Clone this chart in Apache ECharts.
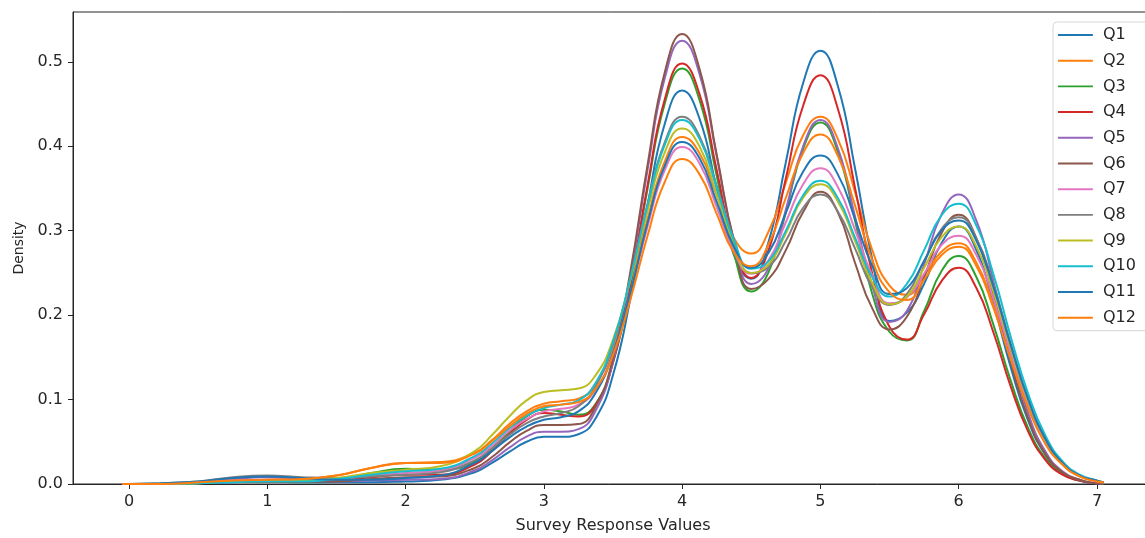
<!DOCTYPE html>
<html lang="en">
<head>
    <meta charset="utf-8">
    <title>Survey KDE</title>
    <script src="https://cdn.jsdelivr.net/npm/echarts@6/dist/echarts.min.js"></script>
    <style>
        body { margin: 0; background: #fff; }
        #main { width: 1145px; height: 538px; }
    </style>
</head>
<body>
<div id="main"></div>
<script>
    // x positions of the density samples (denser where the curves bend)
    var xs = [-0.05, 0, 0.25, 0.5, 0.75, 1, 1.25, 1.5, 1.75, 2, 2.25, 2.5,
              2.625, 2.75, 2.875, 3, 3.125, 3.25, 3.375, 3.5, 3.625, 3.75, 3.875,
              4, 4.125, 4.25, 4.375, 4.5, 4.625, 4.75, 4.875,
              5, 5.125, 5.25, 5.375, 5.5, 5.625, 5.75, 5.875,
              6, 6.125, 6.25, 6.375, 6.5, 6.625, 6.75, 6.875, 7, 7.05];

    var q1  = [0, 0, 0, 0.001, 0.002, 0.003, 0.002, 0.002, 0.002, 0.003, 0.005, 0.014, 0.025, 0.038, 0.050, 0.056, 0.056, 0.059, 0.078, 0.129, 0.219, 0.330, 0.427, 0.466, 0.433, 0.350, 0.271, 0.243, 0.287, 0.381, 0.475, 0.513, 0.472, 0.374, 0.266, 0.193, 0.203, 0.237, 0.285, 0.305, 0.278, 0.214, 0.139, 0.076, 0.035, 0.013, 0.004, 0.001, 0.001];
    var q2  = [0, 0, 0, 0.002, 0.004, 0.005, 0.006, 0.010, 0.019, 0.025, 0.026, 0.037, 0.052, 0.071, 0.086, 0.095, 0.098, 0.101, 0.119, 0.162, 0.232, 0.314, 0.382, 0.411, 0.392, 0.342, 0.291, 0.273, 0.299, 0.357, 0.413, 0.435, 0.409, 0.346, 0.277, 0.235, 0.224, 0.247, 0.275, 0.285, 0.263, 0.212, 0.150, 0.092, 0.049, 0.023, 0.009, 0.003, 0.002];
    var q3  = [0, 0, 0, 0.001, 0.003, 0.003, 0.003, 0.005, 0.013, 0.018, 0.017, 0.026, 0.042, 0.062, 0.080, 0.088, 0.086, 0.082, 0.095, 0.144, 0.234, 0.350, 0.451, 0.492, 0.455, 0.365, 0.273, 0.228, 0.251, 0.322, 0.397, 0.428, 0.394, 0.312, 0.225, 0.180, 0.170, 0.205, 0.252, 0.270, 0.246, 0.189, 0.123, 0.067, 0.031, 0.012, 0.004, 0.001, 0.001];
    var q4  = [0, 0, 0, 0.001, 0.003, 0.003, 0.003, 0.004, 0.008, 0.011, 0.011, 0.023, 0.039, 0.059, 0.076, 0.084, 0.082, 0.080, 0.094, 0.144, 0.237, 0.354, 0.456, 0.498, 0.462, 0.372, 0.282, 0.244, 0.277, 0.362, 0.448, 0.484, 0.445, 0.351, 0.249, 0.186, 0.171, 0.201, 0.240, 0.256, 0.233, 0.180, 0.116, 0.063, 0.029, 0.011, 0.004, 0.001, 0.001];
    var q5  = [0, 0, 0, 0.002, 0.006, 0.008, 0.006, 0.003, 0.004, 0.005, 0.006, 0.016, 0.028, 0.043, 0.056, 0.062, 0.062, 0.065, 0.087, 0.145, 0.246, 0.372, 0.481, 0.525, 0.486, 0.388, 0.288, 0.237, 0.256, 0.325, 0.400, 0.431, 0.398, 0.317, 0.235, 0.192, 0.205, 0.260, 0.319, 0.343, 0.313, 0.241, 0.156, 0.085, 0.039, 0.015, 0.005, 0.001, 0.001];
    var q6  = [0, 0, 0, 0.001, 0.003, 0.004, 0.003, 0.003, 0.006, 0.008, 0.009, 0.019, 0.032, 0.049, 0.063, 0.070, 0.070, 0.071, 0.092, 0.149, 0.251, 0.378, 0.488, 0.533, 0.492, 0.390, 0.288, 0.231, 0.243, 0.277, 0.322, 0.346, 0.322, 0.262, 0.208, 0.183, 0.198, 0.245, 0.297, 0.319, 0.292, 0.225, 0.146, 0.079, 0.036, 0.014, 0.005, 0.001, 0.001];
    var q7  = [0, 0, 0, 0.002, 0.004, 0.005, 0.005, 0.006, 0.010, 0.013, 0.016, 0.031, 0.045, 0.063, 0.077, 0.086, 0.089, 0.094, 0.112, 0.156, 0.225, 0.305, 0.372, 0.399, 0.380, 0.328, 0.275, 0.249, 0.265, 0.310, 0.355, 0.374, 0.352, 0.301, 0.247, 0.214, 0.221, 0.249, 0.283, 0.294, 0.272, 0.220, 0.155, 0.095, 0.051, 0.024, 0.010, 0.003, 0.002];
    var q8  = [0, 0, 0.001, 0.003, 0.008, 0.010, 0.008, 0.007, 0.009, 0.011, 0.014, 0.028, 0.042, 0.058, 0.072, 0.080, 0.084, 0.092, 0.116, 0.166, 0.243, 0.332, 0.405, 0.435, 0.412, 0.353, 0.288, 0.250, 0.257, 0.288, 0.327, 0.343, 0.323, 0.279, 0.233, 0.212, 0.225, 0.264, 0.302, 0.316, 0.292, 0.237, 0.167, 0.102, 0.055, 0.026, 0.010, 0.004, 0.002];
    var q9  = [0, 0, 0, 0.001, 0.003, 0.004, 0.004, 0.007, 0.013, 0.017, 0.021, 0.039, 0.058, 0.080, 0.099, 0.109, 0.111, 0.113, 0.129, 0.171, 0.241, 0.324, 0.393, 0.421, 0.400, 0.343, 0.283, 0.250, 0.260, 0.297, 0.339, 0.355, 0.335, 0.288, 0.238, 0.213, 0.222, 0.256, 0.292, 0.305, 0.282, 0.228, 0.161, 0.099, 0.053, 0.025, 0.010, 0.004, 0.002];
    var q10 = [0, 0, 0, 0.001, 0.002, 0.003, 0.003, 0.006, 0.011, 0.015, 0.018, 0.033, 0.048, 0.066, 0.081, 0.090, 0.094, 0.099, 0.120, 0.168, 0.243, 0.330, 0.402, 0.431, 0.409, 0.351, 0.289, 0.255, 0.264, 0.300, 0.342, 0.359, 0.339, 0.292, 0.245, 0.222, 0.237, 0.277, 0.318, 0.332, 0.307, 0.249, 0.175, 0.108, 0.058, 0.027, 0.011, 0.004, 0.002];
    var q11 = [0, 0, 0.001, 0.003, 0.007, 0.009, 0.007, 0.005, 0.005, 0.007, 0.010, 0.025, 0.039, 0.055, 0.068, 0.076, 0.079, 0.086, 0.108, 0.155, 0.226, 0.309, 0.377, 0.405, 0.386, 0.334, 0.281, 0.256, 0.274, 0.321, 0.370, 0.389, 0.367, 0.314, 0.258, 0.225, 0.232, 0.264, 0.300, 0.312, 0.289, 0.234, 0.165, 0.101, 0.054, 0.025, 0.010, 0.004, 0.002];
    var q12 = [0, 0, 0, 0.002, 0.004, 0.005, 0.006, 0.010, 0.019, 0.025, 0.025, 0.036, 0.051, 0.068, 0.083, 0.092, 0.094, 0.097, 0.113, 0.153, 0.218, 0.294, 0.358, 0.385, 0.367, 0.320, 0.274, 0.258, 0.284, 0.339, 0.392, 0.414, 0.389, 0.330, 0.265, 0.227, 0.218, 0.242, 0.271, 0.281, 0.259, 0.209, 0.148, 0.091, 0.048, 0.023, 0.009, 0.003, 0.002];

    var names = ['Q1', 'Q2', 'Q3', 'Q4', 'Q5', 'Q6', 'Q7', 'Q8', 'Q9', 'Q10', 'Q11', 'Q12'];
    var values = [q1, q2, q3, q4, q5, q6, q7, q8, q9, q10, q11, q12];
    var colors = ['#1f77b4', '#ff7f0e', '#2ca02c', '#d62728', '#9467bd', '#8c564b',
                  '#e377c2', '#7f7f7f', '#bcbd22', '#17becf', '#1f77b4', '#ff7f0e'];

    var xTicks = [0, 1, 2, 3, 4, 5, 6, 7];
    var yTicks = [0, 0.1, 0.2, 0.3, 0.4, 0.5];

    var font = 'DejaVu Sans';
    var ink = '#262626';
    // plain line handle for the legend (tiny corner dots only fix the box size)
    var lineIcon = 'path://M0,0h0.05v0.05h-0.05z M0,6h35v2h-35z M0,14h0.05v0.05h-0.05z';

    var chart = echarts.init(document.getElementById('main'));

    var series = names.map(function (n, i) {
        return {
            name: n,
            type: 'line',
            smooth: true,
            symbol: 'none',
            showSymbol: false,
            lineStyle: { width: 2, color: colors[i] },
            itemStyle: { color: colors[i] },
            data: xs.map(function (x, j) { return [x, values[i][j]]; })
        };
    });

    var option = {
        animation: false,
        color: colors,
        textStyle: { fontFamily: font },
        grid: {
            left: 73, top: 12, width: 1080, height: 472,
            containLabel: false,
            outerBoundsMode: 'none',
            show: true, borderColor: ink, borderWidth: 1, backgroundColor: 'transparent'
        },
        legend: {
            data: names,
            icon: lineIcon,
            orient: 'vertical',
            left: 1053, top: 22,
            itemWidth: 35, itemHeight: 14, itemGap: 9.7,
            padding: [5, 20, 5, 5],
            backgroundColor: 'rgba(255,255,255,0.8)',
            borderColor: '#d6d6d6', borderWidth: 1, borderRadius: 4,
            textStyle: { fontFamily: font, fontSize: 16, color: ink, lineHeight: 16, padding: [0, 0, 0, 5] }
        },
        xAxis: {
            type: 'value',
            min: -0.405, max: 7.405,
            name: 'Survey Response Values',
            nameLocation: 'middle', nameGap: 34,
            nameTextStyle: { fontFamily: font, fontSize: 16, color: ink },
            axisLine: { show: true, onZero: false, lineStyle: { color: ink, width: 1 } },
            axisTick: { show: true, length: 5, customValues: xTicks, lineStyle: { color: ink } },
            axisLabel: { customValues: xTicks, fontFamily: font, fontSize: 16, color: ink, margin: 10 },
            splitLine: { show: false }
        },
        yAxis: {
            type: 'value',
            min: 0, max: 0.559,
            name: 'Density',
            nameLocation: 'middle', nameGap: 46, nameRotate: 90,
            nameTextStyle: { fontFamily: font, fontSize: 14, color: ink },
            axisLine: { show: true, onZero: false, lineStyle: { color: ink, width: 1 } },
            axisTick: { show: true, length: 5, customValues: yTicks, lineStyle: { color: ink } },
            axisLabel: {
                customValues: yTicks, fontFamily: font, fontSize: 16, color: ink, margin: 10,
                formatter: function (v) { return v.toFixed(1); }
            },
            splitLine: { show: false }
        },
        series: series
    };
    chart.setOption(option);
</script>
</body>
</html>
